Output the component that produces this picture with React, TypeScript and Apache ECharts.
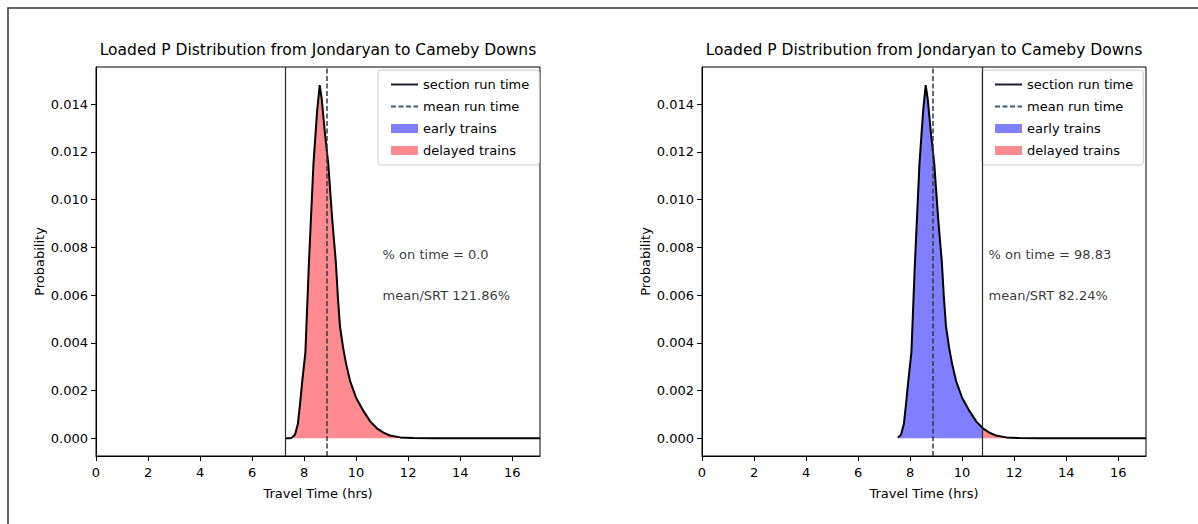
import React, { useEffect, useRef } from "react";
import * as echarts from "echarts";

// ---------- data ----------
const titleText = "Loaded P Distribution from Jondaryan to Cameby Downs";
const xTicks = [0, 2, 4, 6, 8, 10, 12, 14, 16];
const yTicks = [0, 0.002, 0.004, 0.006, 0.008, 0.01, 0.012, 0.014];
const xMin = 0;
const xMax = 17.07;
const yMin = -0.00074;
const yMax = 0.01556;

// probability density of travel time (hrs)
const travelTime = [
  7.28, 7.45, 7.53, 7.65, 7.76, 7.85, 7.93, 8.05, 8.18, 8.36, 8.5, 8.6, 8.68,
  8.8, 8.93, 9.08, 9.22, 9.3, 9.38, 9.5, 9.62, 9.77, 10.0, 10.28, 10.55, 10.8,
  11.05, 11.3, 11.7, 12.2, 13.0, 17.07,
];
const probability = [
  0, 0, 0.00003, 0.00015, 0.0006, 0.0015, 0.0024, 0.0036, 0.0072, 0.0115,
  0.0137, 0.0148, 0.0142, 0.0128, 0.0115, 0.0092, 0.0074, 0.0059, 0.0047,
  0.0038, 0.0031, 0.0024, 0.0017, 0.00115, 0.0007, 0.00042, 0.00024, 0.00012,
  0.00004, 0.00001, 0, 0,
];

// per panel
const curveStart = [7.28, 7.53];
const sectionRunTime = [7.28, 10.79];
const meanRunTime = [8.875, 8.875];
const onTimePct = ["0.0", "98.83"];
const meanSrtPct = ["121.86", "82.24"];
const annotX = 11;
const annotY = [0.0077, 0.006];

// ---------- styles / layout ----------
const FONT = "DejaVu Sans";
const gridLefts = [96, 702];
const gridTop = 67;
const gridW = 444;
const gridH = 389;
const legendLefts = [378, 982];
const EARLY = "rgba(0,0,255,0.5)";
const DELAYED = "rgba(255,10,20,0.48)";
const SRT_COLOR = "#1e1e2e";
const MEAN_COLOR = "#3a5f7c";

function interp(xs: number[], ys: number[], x: number): number {
  for (let i = 0; i < xs.length - 1; i++) {
    if (x >= xs[i] && x <= xs[i + 1]) {
      const t = (x - xs[i]) / (xs[i + 1] - xs[i]);
      return ys[i] + t * (ys[i + 1] - ys[i]);
    }
  }
  return 0;
}

function buildOption() {
  const panels = [0, 1];
  const series: any[] = [];
  panels.forEach((p) => {
    const pts = travelTime
      .map((x, i) => [x, probability[i]])
      .filter(([x]) => x >= curveStart[p]);
    const srt = sectionRunTime[p];
    const ySrt = interp(travelTime, probability, srt);
    const early = [...pts.filter(([x]) => x < srt), [srt, ySrt]];
    const delayed = [[srt, ySrt], ...pts.filter(([x]) => x > srt)];
    const common = { xAxisIndex: p, yAxisIndex: p };
    series.push({
      ...common,
      name: "early trains",
      type: "line",
      data: early,
      symbol: "none",
      lineStyle: { width: 0 },
      itemStyle: { color: EARLY },
      areaStyle: { color: EARLY, opacity: 1 },
      z: 1,
      silent: true,
    });
    series.push({
      ...common,
      name: "delayed trains",
      type: "line",
      data: delayed,
      symbol: "none",
      lineStyle: { width: 0 },
      itemStyle: { color: DELAYED },
      areaStyle: { color: DELAYED, opacity: 1 },
      z: 1,
      silent: true,
    });
    series.push({
      ...common,
      name: "distribution",
      type: "line",
      data: pts,
      symbol: "none",
      lineStyle: { color: "#000", width: 2 },
      z: 4,
      silent: true,
    });
    series.push({
      ...common,
      name: "section run time",
      type: "line",
      data: [],
      symbol: "circle",
      symbolSize: 0,
      itemStyle: { color: "rgba(0,0,0,0)" },
      lineStyle: { color: SRT_COLOR, width: 1.5 },
      markLine: {
        silent: true,
        symbol: "none",
        label: { show: false },
        lineStyle: { color: "#2a2a2a", width: 1.2, type: "solid" },
        data: [{ xAxis: srt }],
      },
      z: 3,
    });
    series.push({
      ...common,
      name: "mean run time",
      type: "line",
      data: [],
      symbol: "circle",
      symbolSize: 0,
      itemStyle: { color: "rgba(0,0,0,0)" },
      lineStyle: { color: MEAN_COLOR, width: 1.5, type: [5, 2.5] },
      markLine: {
        silent: true,
        symbol: "none",
        label: { show: false },
        lineStyle: { color: "#333a40", width: 1.5, type: [5, 2.5] },
        data: [{ xAxis: meanRunTime[p] }],
      },
      z: 3,
    });
    series.push({
      ...common,
      type: "scatter",
      silent: true,
      symbolSize: 1,
      itemStyle: { color: "rgba(0,0,0,0)" },
      data: [
        [annotX, annotY[0], "% on time = " + onTimePct[p]],
        [annotX, annotY[1], "mean/SRT " + meanSrtPct[p] + "%"],
      ],
      label: {
        show: true,
        position: "right",
        distance: 0,
        formatter: (d: any) => d.data[2],
        color: "#000",
        fontSize: 13,
        fontFamily: FONT,
      },
      z: 5,
    });
  });

  const axisText = { color: "#000", fontSize: 13, fontFamily: FONT };

  return {
    animation: false,
    backgroundColor: "#fff",
    textStyle: { fontFamily: FONT },
    grid: panels.map((p) => ({
      left: gridLefts[p],
      top: gridTop,
      width: gridW,
      height: gridH,
      show: true,
      borderColor: "#000",
      borderWidth: 1,
      backgroundColor: "transparent",
      containLabel: false,
      outerBoundsMode: "none",
    })),
    xAxis: panels.map((p) => ({
      type: "value",
      gridIndex: p,
      position: "bottom",
      min: xMin,
      max: xMax,
      name: "Travel Time (hrs)",
      nameLocation: "middle",
      nameGap: 31,
      nameTextStyle: axisText,
      axisLine: { show: true, onZero: false, lineStyle: { color: "#000", width: 1 } },
      axisTick: {
        show: true,
        inside: false,
        length: 5,
        lineStyle: { color: "#000", width: 1 },
        customValues: xTicks,
      },
      axisLabel: {
        ...axisText,
        margin: 10,
        customValues: xTicks,
        formatter: (v: number) => String(v),
      },
      splitLine: { show: false },
    })),
    yAxis: panels.map((p) => ({
      type: "value",
      gridIndex: p,
      position: "left",
      min: yMin,
      max: yMax,
      name: "Probability",
      nameLocation: "middle",
      nameGap: 50,
      nameRotate: 90,
      nameTextStyle: axisText,
      axisLine: { show: true, onZero: false, lineStyle: { color: "#000", width: 1 } },
      axisTick: {
        show: true,
        inside: false,
        length: 5,
        lineStyle: { color: "#000", width: 1 },
        customValues: yTicks,
      },
      axisLabel: {
        ...axisText,
        margin: 8,
        customValues: yTicks,
        formatter: (v: number) => v.toFixed(3),
      },
      splitLine: { show: false },
    })),
    legend: panels.map((p) => ({
      orient: "vertical",
      left: legendLefts[p],
      top: 70,
      selectedMode: false,
      itemWidth: 27,
      itemHeight: 9,
      itemGap: 9,
      padding: [8, 10, 8, 12],
      backgroundColor: "rgba(255,255,255,0.8)",
      borderColor: "#cccccc",
      borderWidth: 1,
      borderRadius: 3,
      textStyle: { color: "#000", fontSize: 13, fontFamily: FONT, lineHeight: 13 },
      data: [
        { name: "section run time", itemStyle: { color: "rgba(0,0,0,0)", borderWidth: 0 } },
        { name: "mean run time", itemStyle: { color: "rgba(0,0,0,0)", borderWidth: 0 } },
        { name: "early trains", icon: "rect", itemStyle: { borderWidth: 0 } },
        { name: "delayed trains", icon: "rect", itemStyle: { borderWidth: 0 } },
      ],
    })),
    graphic: [
      {
        type: "rect",
        silent: true,
        shape: { x: 8, y: 8, width: 1400, height: 800 },
        style: { fill: "none", stroke: "#333", lineWidth: 1.5 },
      },
      ...panels.map((p) => ({
        type: "text",
        silent: true,
        x: gridLefts[p] + gridW / 2,
        y: 50,
        style: {
          text: titleText,
          align: "center",
          verticalAlign: "middle",
          fontSize: 15.5,
          fontFamily: FONT,
          fill: "#000",
        },
      })),
    ],
    series,
  };
}

export default function App() {
  const ref = useRef<HTMLDivElement>(null);
  useEffect(() => {
    if (!ref.current) return;
    const chart = echarts.init(ref.current, undefined, { renderer: "svg" });
    chart.setOption(buildOption() as any);
    return () => chart.dispose();
  }, []);
  return (
    <div
      ref={ref}
      style={{ position: "absolute", left: 0, top: 0, width: 1198, height: 524 }}
    />
  );
}
